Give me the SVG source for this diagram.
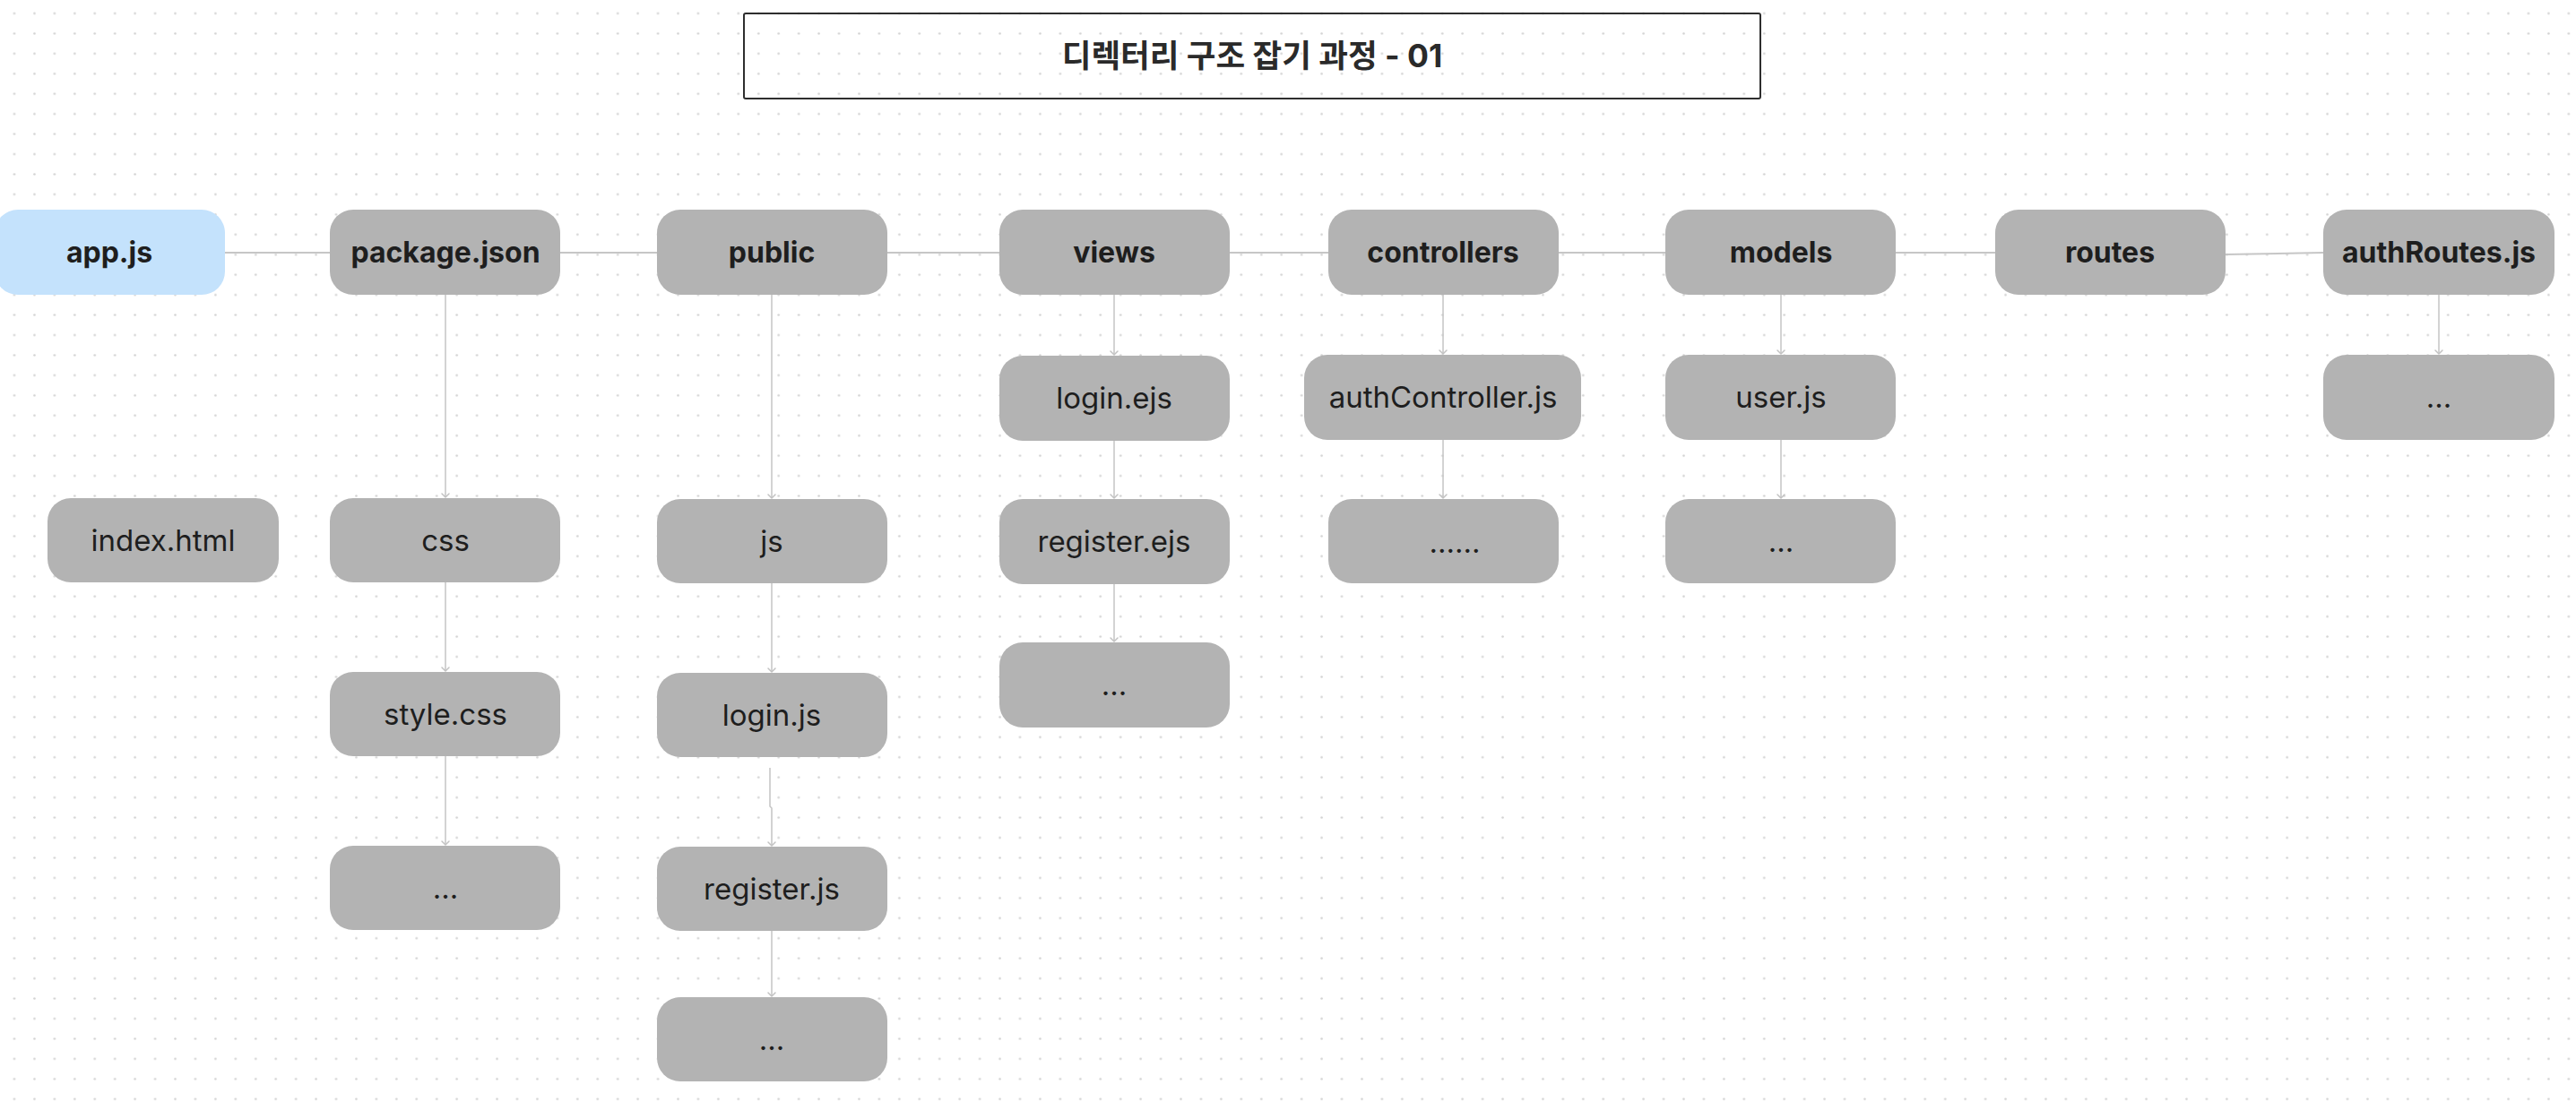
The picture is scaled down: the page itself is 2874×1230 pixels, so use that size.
<svg xmlns="http://www.w3.org/2000/svg" width="2874" height="1230" viewBox="0 0 2874 1230">
  <defs>
    <pattern id="grid" x="14.5" y="13.5" width="22.44" height="22.44" patternUnits="userSpaceOnUse">
      <circle cx="1.5" cy="1.5" r="1.3" fill="#d2d2d2"/>
    </pattern>
    <marker id="arrow" markerUnits="userSpaceOnUse" markerWidth="12" markerHeight="12" viewBox="-6 -6 12 12" refX="0" refY="0" orient="auto">
      <path d="M-4,-4 L0,0 L-4,4" fill="none" stroke="#c2c2c2" stroke-width="1.5" stroke-linecap="round" stroke-linejoin="round"/>
    </marker>
    <style>
      .box { fill: #b3b3b3; }
      .blue { fill: #c4e2fc; }
      .lbl { font-family: Inter, "Noto Sans", "Liberation Sans", sans-serif; font-size: 33px; fill: #1e1e1e; text-anchor: middle; }
      .b { font-weight: 700; font-size: 32px; }
      .h { fill: none; stroke: #c6c6c6; stroke-width: 2; }
      .v { fill: none; stroke: #c4c4c4; stroke-width: 1.5; marker-end: url(#arrow); }
      .title { font-family: Inter, "Noto Sans CJK KR", sans-serif; font-size: 35.5px; font-weight: 700; fill: #2a2a2a; text-anchor: middle; }
    </style>
  </defs>
  <rect x="0" y="0" width="2874" height="1230" fill="#ffffff"/>
  <rect x="0" y="0" width="2874" height="1230" fill="url(#grid)"/>

  <g id="title">
    <rect x="830" y="15" width="1134" height="95" rx="2" fill="none" stroke="#2e2e2e" stroke-width="2"/>
    <text class="title" x="1397" y="75">디렉터리 구조 잡기 과정 - 01</text>
  </g>

  <g id="connectors">
    <path class="h" d="M251,282 H368"/>
    <path class="h" d="M625,282 H733"/>
    <path class="h" d="M990,282 H1115"/>
    <path class="h" d="M1372,282 H1482"/>
    <path class="h" d="M1739,282 H1858"/>
    <path class="h" d="M2115,282 H2226"/>
    <path class="h" d="M2483,284 L2592,282"/>

    <path class="v" d="M497,329 V555"/>
    <path class="v" d="M497,650 V749"/>
    <path class="v" d="M497,844 V943"/>

    <path class="v" d="M861,329 V556"/>
    <path class="v" d="M861,651 V750"/>
    <path class="v" d="M859,857 V900 L861,902 V944"/>
    <path class="v" d="M861,1039 V1112"/>

    <path class="v" d="M1243,329 V396"/>
    <path class="v" d="M1243,492 V556"/>
    <path class="v" d="M1243,652 V716"/>

    <path class="v" d="M1610,329 V395"/>
    <path class="v" d="M1610,491 V556"/>

    <path class="v" d="M1987,329 V395"/>
    <path class="v" d="M1987,491 V556"/>

    <path class="v" d="M2721,329 V395"/>
  </g>

  <g id="node-app-js">
    <rect class="blue" x="-6" y="234" width="257" height="95" rx="26"/>
    <text class="lbl b" x="122" y="293">app.js</text>
  </g>
  <g id="node-package-json">
    <rect class="box" x="368" y="234" width="257" height="95" rx="26"/>
    <text class="lbl b" x="497" y="293">package.json</text>
  </g>
  <g id="node-public">
    <rect class="box" x="733" y="234" width="257" height="95" rx="26"/>
    <text class="lbl b" x="861" y="293">public</text>
  </g>
  <g id="node-views">
    <rect class="box" x="1115" y="234" width="257" height="95" rx="26"/>
    <text class="lbl b" x="1243" y="293">views</text>
  </g>
  <g id="node-controllers">
    <rect class="box" x="1482" y="234" width="257" height="95" rx="26"/>
    <text class="lbl b" x="1610" y="293">controllers</text>
  </g>
  <g id="node-models">
    <rect class="box" x="1858" y="234" width="257" height="95" rx="26"/>
    <text class="lbl b" x="1987" y="293">models</text>
  </g>
  <g id="node-routes">
    <rect class="box" x="2226" y="234" width="257" height="95" rx="26"/>
    <text class="lbl b" x="2354" y="293">routes</text>
  </g>
  <g id="node-authRoutes-js">
    <rect class="box" x="2592" y="234" width="258" height="95" rx="26"/>
    <text class="lbl b" x="2721" y="293">authRoutes.js</text>
  </g>

  <g id="node-index-html">
    <rect class="box" x="53" y="556" width="258" height="94" rx="26"/>
    <text class="lbl" x="182" y="615">index.html</text>
  </g>

  <g id="node-css">
    <rect class="box" x="368" y="556" width="257" height="94" rx="26"/>
    <text class="lbl" x="497" y="615">css</text>
  </g>
  <g id="node-style-css">
    <rect class="box" x="368" y="750" width="257" height="94" rx="26"/>
    <text class="lbl" x="497" y="809">style.css</text>
  </g>
  <g id="node-css-more">
    <rect class="box" x="368" y="944" width="257" height="94" rx="26"/>
    <text class="lbl" x="497" y="1003">...</text>
  </g>

  <g id="node-js">
    <rect class="box" x="733" y="557" width="257" height="94" rx="26"/>
    <text class="lbl" x="861" y="616">js</text>
  </g>
  <g id="node-login-js">
    <rect class="box" x="733" y="751" width="257" height="94" rx="26"/>
    <text class="lbl" x="861" y="810">login.js</text>
  </g>
  <g id="node-register-js">
    <rect class="box" x="733" y="945" width="257" height="94" rx="26"/>
    <text class="lbl" x="861" y="1004">register.js</text>
  </g>
  <g id="node-js-more">
    <rect class="box" x="733" y="1113" width="257" height="94" rx="26"/>
    <text class="lbl" x="861" y="1172">...</text>
  </g>

  <g id="node-login-ejs">
    <rect class="box" x="1115" y="397" width="257" height="95" rx="26"/>
    <text class="lbl" x="1243" y="456">login.ejs</text>
  </g>
  <g id="node-register-ejs">
    <rect class="box" x="1115" y="557" width="257" height="95" rx="26"/>
    <text class="lbl" x="1243" y="616">register.ejs</text>
  </g>
  <g id="node-views-more">
    <rect class="box" x="1115" y="717" width="257" height="95" rx="26"/>
    <text class="lbl" x="1243" y="776">...</text>
  </g>

  <g id="node-authController-js">
    <rect class="box" x="1455" y="396" width="309" height="95" rx="26"/>
    <text class="lbl" x="1610" y="455">authController.js</text>
  </g>
  <g id="node-controllers-more">
    <rect class="box" x="1482" y="557" width="257" height="94" rx="26"/>
    <text class="lbl" x="1623" y="617">......</text>
  </g>

  <g id="node-user-js">
    <rect class="box" x="1858" y="396" width="257" height="95" rx="26"/>
    <text class="lbl" x="1987" y="455">user.js</text>
  </g>
  <g id="node-models-more">
    <rect class="box" x="1858" y="557" width="257" height="94" rx="26"/>
    <text class="lbl" x="1987" y="616">...</text>
  </g>

  <g id="node-authRoutes-more">
    <rect class="box" x="2592" y="396" width="258" height="95" rx="26"/>
    <text class="lbl" x="2721" y="455">...</text>
  </g>
</svg>
